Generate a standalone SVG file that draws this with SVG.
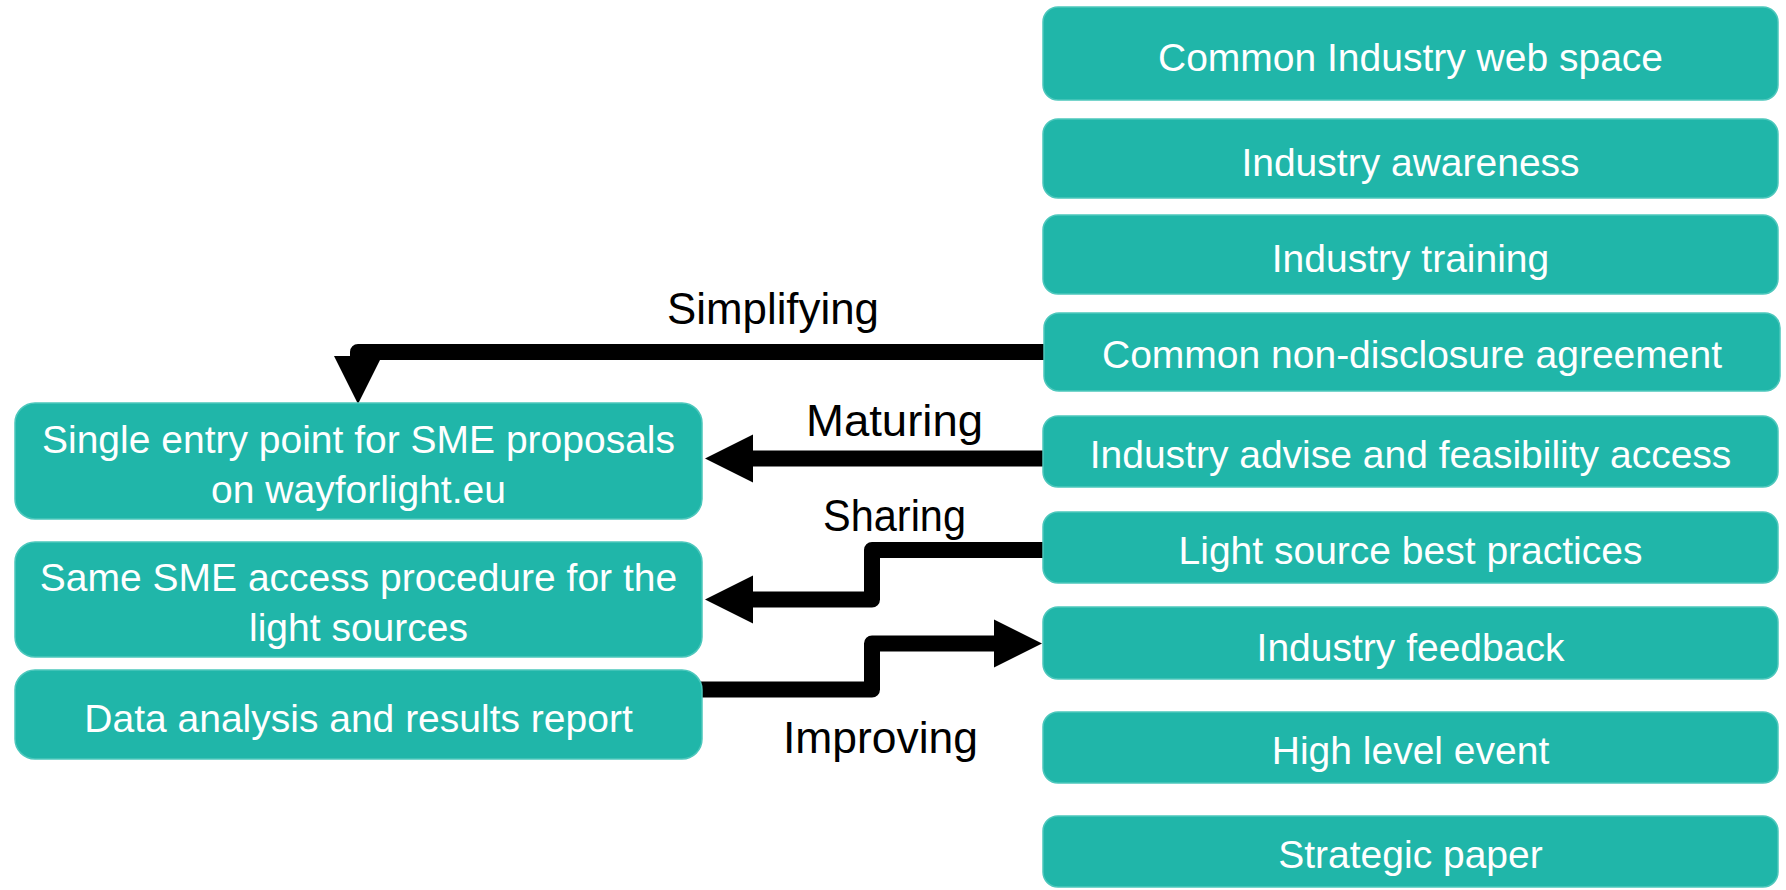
<svg xmlns="http://www.w3.org/2000/svg" width="1786" height="890" viewBox="0 0 1786 890">
  <style>
    .box { fill: #20B6A9; stroke: #4CC7BC; stroke-width: 1.5; }
    .bt { font-family: "Liberation Sans", Arial, sans-serif; font-size: 39px; fill: #FFFFFF; text-anchor: middle; }
    .lbl { font-family: "Liberation Sans", Arial, sans-serif; font-size: 44px; fill: #000000; text-anchor: middle; }
    .conn { fill: none; stroke: #000000; stroke-width: 16; stroke-linejoin: round; }
  </style>
  <defs>
    <marker id="head" markerUnits="userSpaceOnUse" viewBox="-2 -26 54 52" markerWidth="54" markerHeight="52" refX="0" refY="0" orient="auto" overflow="visible">
      <path d="M-1,-24 L47,0 L-1,24 Z" fill="#000000"/>
    </marker>
  </defs>
  <rect width="1786" height="890" fill="#FFFFFF"/>

  <g id="connectors">
    <path class="conn" d="M1045,352 H358 V357" marker-end="url(#head)"/>
    <path class="conn" d="M1045,458.5 H752" marker-end="url(#head)"/>
    <path class="conn" d="M1045,550 H872 V599.5 H752" marker-end="url(#head)"/>
    <path class="conn" d="M700,689.5 H872 V643.5 H995" marker-end="url(#head)"/>
  </g>

  <g id="labels">
    <text class="lbl" x="773" y="324" textLength="212" lengthAdjust="spacingAndGlyphs">Simplifying</text>
    <text class="lbl" x="894.5" y="436" textLength="177" lengthAdjust="spacingAndGlyphs">Maturing</text>
    <text class="lbl" x="894.5" y="531" textLength="143" lengthAdjust="spacingAndGlyphs">Sharing</text>
    <text class="lbl" x="880.5" y="753" textLength="195" lengthAdjust="spacingAndGlyphs">Improving</text>
  </g>

  <g id="n-common-web">
    <rect class="box" x="1043" y="7" width="735" height="93" rx="15"/>
    <text class="bt" x="1410.5" y="71">Common Industry web space</text>
  </g>
  <g id="n-awareness">
    <rect class="box" x="1043" y="119" width="735" height="79" rx="15"/>
    <text class="bt" x="1410.5" y="176">Industry awareness</text>
  </g>
  <g id="n-training">
    <rect class="box" x="1043" y="215" width="735" height="79" rx="15"/>
    <text class="bt" x="1410.5" y="272">Industry training</text>
  </g>
  <g id="n-nda">
    <rect class="box" x="1044" y="313" width="736" height="78" rx="15"/>
    <text class="bt" x="1412" y="368">Common non-disclosure agreement</text>
  </g>
  <g id="n-advise">
    <rect class="box" x="1043" y="416" width="735" height="71" rx="15"/>
    <text class="bt" x="1410.5" y="468">Industry advise and feasibility access</text>
  </g>
  <g id="n-best-practices">
    <rect class="box" x="1043" y="512" width="735" height="71" rx="15"/>
    <text class="bt" x="1410.5" y="564">Light source best practices</text>
  </g>
  <g id="n-feedback">
    <rect class="box" x="1043" y="607" width="735" height="72" rx="15"/>
    <text class="bt" x="1410.5" y="661">Industry feedback</text>
  </g>
  <g id="n-event">
    <rect class="box" x="1043" y="712" width="735" height="71" rx="15"/>
    <text class="bt" x="1410.5" y="764">High level event</text>
  </g>
  <g id="n-paper">
    <rect class="box" x="1043" y="816" width="735" height="71" rx="15"/>
    <text class="bt" x="1410.5" y="868">Strategic paper</text>
  </g>

  <g id="n-single-entry">
    <rect class="box" x="15" y="403" width="687" height="116" rx="20"/>
    <text class="bt" x="358.5" y="453">Single entry point for SME proposals</text>
    <text class="bt" x="358.5" y="503">on wayforlight.eu</text>
  </g>
  <g id="n-same-access">
    <rect class="box" x="15" y="542" width="687" height="115" rx="20"/>
    <text class="bt" x="358.5" y="591">Same SME access procedure for the</text>
    <text class="bt" x="358.5" y="641">light sources</text>
  </g>
  <g id="n-data-analysis">
    <rect class="box" x="15" y="670" width="687" height="89" rx="20"/>
    <text class="bt" x="358.5" y="732">Data analysis and results report</text>
  </g>
</svg>
